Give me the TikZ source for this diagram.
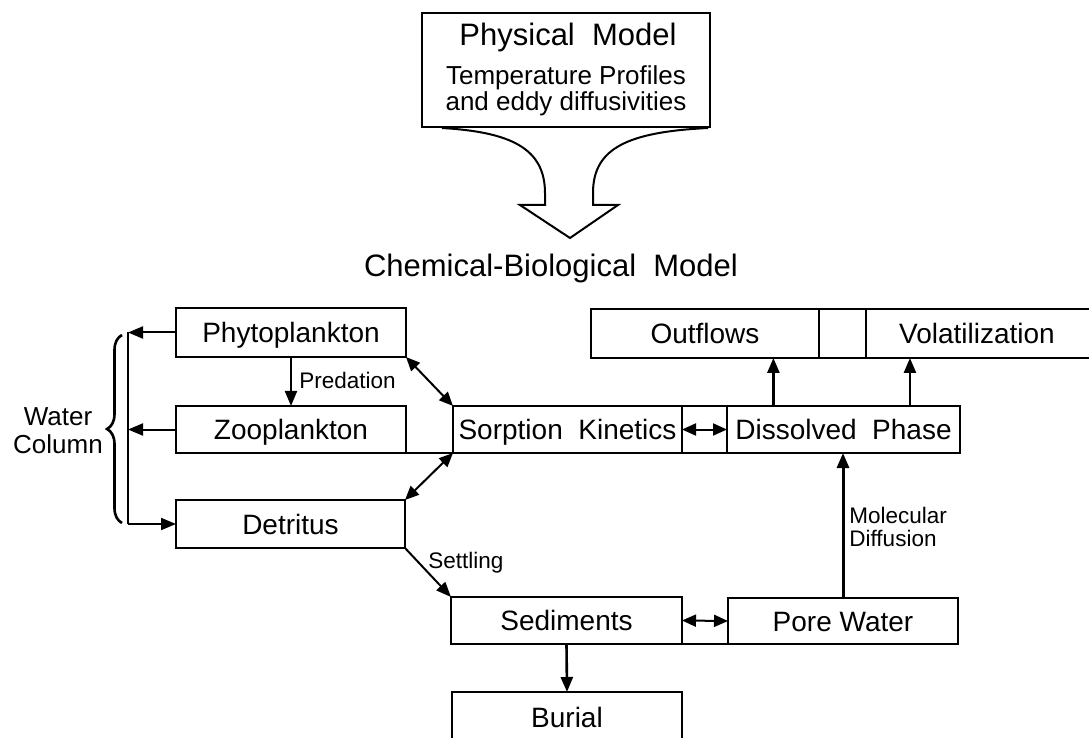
\documentclass[tikz,border=0pt]{standalone}
\usepackage{fontspec}
\setmainfont{Liberation Sans}
\usetikzlibrary{arrows.meta,calc,decorations.pathreplacing}
\tikzset{
    box/.style={draw, line width=1.4pt, inner sep=0pt, outer sep=0pt, text height=10pt, text depth=0pt, font=\fontsize{14}{16}\selectfont},
    lbl/.style={inner sep=0pt, font=\fontsize{11.25}{11.5}\selectfont},
    arr/.style={-{Triangle[length=7.5pt,width=6pt]}, line width=1pt},
    darr/.style={{Triangle[length=7pt,width=6pt]}-{Triangle[length=7pt,width=6pt]}, line width=1pt}
}
\begin{document}
\begin{tikzpicture}[x=0.5pt, y=-0.5pt]
    \clip (0,0) rectangle (1089,738);
    \node[box, minimum width=144pt, minimum height=57pt] (phys) at (566,70) {};
    \node[inner sep=0pt, font=\fontsize{15.5}{16}\selectfont] (physT) at (568,37) {Physical~~Model};
    \node[inner sep=0pt, align=center, font=\fontsize{13}{13}\selectfont] (physS) at (566,91) {Temperature Profiles\\and eddy diffusivities};
    \draw[line width=1pt, line join=miter] (442,128) .. controls (510,132) and (545,148) .. (545,193)
        -- (545,205) -- (520,205) -- (570,238) -- (618,205) -- (593,205) -- (593,193)
        .. controls (593,148) and (628,132) .. (708,128);
    \node[inner sep=0pt, font=\fontsize{15.5}{16}\selectfont] (title) at (551,268) {Chemical-Biological~~Model};

    \node[box, minimum width=115pt, minimum height=24.5pt] (phyto) at (291,332.5) {Phytoplankton};
    \node[box, minimum width=115pt, minimum height=23.5pt] (zoo) at (291,429.5) {Zooplankton};
    \node[box, minimum width=114.5pt, minimum height=24pt] (detr) at (290.5,524) {Detritus};
    \node[box, minimum width=114.5pt, minimum height=23.5pt] (sorp) at (567.5,429.5) {Sorption~~Kinetics};
    \node[box, minimum width=116.5pt, minimum height=23.5pt] (diss) at (843.5,429.5) {Dissolved~~Phase};
    \node[box, minimum width=114pt, minimum height=24.5pt] (outf) at (705,333.5) {Outflows};
    \node[box, minimum width=134pt, minimum height=24.5pt,
        label={[name=volaT, xshift=-11.5pt, text height=10pt, text depth=0pt, font=\fontsize{14}{16}\selectfont]center:Volatilization}] (vola) at (1000,333.5) {};
    \node[box, minimum width=115.5pt, minimum height=23.5pt] (sedi) at (566.5,620.5) {Sediments};
    \node[box, minimum width=115pt, minimum height=23pt] (pore) at (843,621) {Pore Water};
    \node[box, minimum width=115pt, minimum height=25pt] (buri) at (567,717) {Burial};

    \draw[line width=1.4pt] (zoo.south east) -- (sorp.south west);
    \draw[line width=1.4pt] (sorp.north east) -- (diss.north west);
    \draw[line width=1.4pt] (sorp.south east) -- (diss.south west);
    \draw[line width=1.4pt] (outf.north east) -- (vola.north west);
    \draw[line width=1.4pt] (outf.south east) -- (vola.south west);
    \draw[line width=1.4pt] (sedi.south east) -- (pore.south west);

    \coordinate (wtop) at (128,332.5);
    \coordinate (wbot) at (128,524);
    \draw[arr] (phyto.west) -- (wtop);
    \draw[arr] (zoo.west) -- (zoo.west -| wtop);
    \draw[line width=1.2pt] (wtop) -- (wbot);
    \draw[arr] (wbot) -- (detr.west);
    \draw[line width=1.3pt, decorate, decoration={brace, amplitude=7.5pt}] (122,523) -- (122,335);
    \node[inner sep=0pt, align=center, font=\fontsize{13}{14}\selectfont] (wc) at (58,431) {Water\\Column};

    \draw[arr] (phyto.south) -- (zoo.north);
    \node[lbl, anchor=west] (pred) at (299,380) {Predation};
    \draw[darr] (phyto.south east) -- (sorp.north west);
    \draw[darr] (sorp.south west) -- (detr.north east);
    \draw[darr] (sorp.east) -- (diss.west);

    \coordinate (outfA) at ($(outf.south west)!0.8!(outf.south east)$);
    \coordinate (volaA) at ($(vola.south west)!0.164!(vola.south east)$);
    \draw[arr, line width=1.3pt] (diss.north -| outfA) -- (outfA);
    \draw[arr, line width=1.3pt] (diss.north -| volaA) -- (volaA);

    \draw[arr, line width=1.5pt] (pore.north) -- (pore.north |- diss.south);
    \node[lbl, anchor=west, align=left] (mol) at (849,527) {Molecular\\Diffusion};

    \draw[arr] (detr.south east) -- (sedi.north west);
    \node[lbl, anchor=west] (settl) at (428,563) {Settling};
    \draw[darr] (sedi.east) -- (pore.west);
    \draw[arr, line width=1.3pt] (sedi.south) -- (buri.north);
\end{tikzpicture}
\end{document}
